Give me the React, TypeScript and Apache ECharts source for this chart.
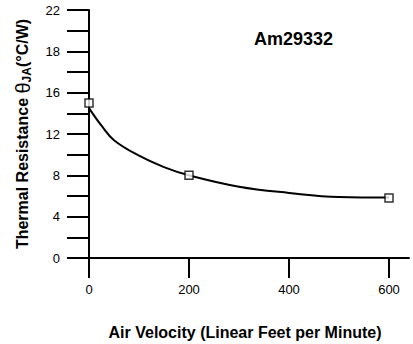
import React, { useEffect, useRef } from "react";
import * as echarts from "echarts";

const curveX = [0, 25, 50, 100, 150, 200, 300, 400, 500, 600];
const curveY = [14.5, 12.8, 11.4, 9.9, 8.8, 8.0, 6.9, 6.3, 5.9, 5.85];
const markerX = [0, 200, 600];
const markerY = [15, 8, 5.8];
const xTicks = [0, 200, 400, 600];
const yTickPositions = [0, 2, 4, 6, 8, 10, 12, 14, 16, 18, 20, 22, 24];
const yLabelPositions = [0, 4, 8, 12, 16, 20, 24];
const yLabelTexts = ["0", "4", "8", "12", "16", "18", "22"];
const titleText = "Am29332";
const xName = "Air Velocity (Linear Feet per Minute)";

export default function App() {
  const ref = useRef<HTMLDivElement>(null);
  useEffect(() => {
    if (!ref.current) return;
    const chart = echarts.init(ref.current, null, { renderer: "svg" });
    const font = "'Liberation Sans', Arial, Helvetica, sans-serif";
    chart.setOption({
      animation: false,
      backgroundColor: "#ffffff",
      textStyle: { fontFamily: font, color: "#000" },
      title: {
        text: titleText,
        left: 249,
        top: 25,
        textStyle: { fontFamily: font, fontSize: 18, fontWeight: "bold", color: "#000" },
      },
      grid: { left: 89, right: 4, top: 10, bottom: 86, containLabel: false, outerBoundsMode: "none" },
      xAxis: {
        type: "value",
        min: 0,
        max: 640,
        name: xName,
        nameLocation: "middle",
        nameGap: 66,
        nameTextStyle: { fontFamily: font, fontSize: 16, fontWeight: "bold", color: "#000", padding: [0, 8, 0, 0] },
        splitLine: { show: false },
        axisLine: { show: true, onZero: false, lineStyle: { color: "#000", width: 2 } },
        axisTick: { show: true, inside: false, length: 20, lineStyle: { color: "#000", width: 2 }, customValues: xTicks },
        axisLabel: { margin: 25, fontSize: 13, color: "#000", fontFamily: font, customValues: xTicks },
      },
      yAxis: {
        type: "value",
        min: 0,
        max: 24,
        name: "Thermal Resistance {t|θ}{s|JA}{n|(°C/W)}",
        nameLocation: "middle",
        nameRotate: 90,
        nameGap: 56,
        nameTextStyle: {
          fontFamily: font,
          fontSize: 16,
          fontWeight: "bold",
          color: "#000",
          rich: {
            t: { fontFamily: font, fontSize: 20, fontWeight: "normal", color: "#000" },
            s: { fontFamily: font, fontSize: 12, fontWeight: "bold", color: "#000", padding: [9, 0, 0, 0] },
            n: { fontFamily: font, fontSize: 16, fontWeight: "bold", color: "#000" },
          },
        },
        splitLine: { show: false },
        axisLine: { show: true, lineStyle: { color: "#000", width: 2 } },
        axisTick: { show: true, inside: false, length: 22, lineStyle: { color: "#000", width: 2 }, customValues: yTickPositions },
        axisLabel: {
          margin: 29,
          fontSize: 13,
          color: "#000",
          fontFamily: font,
          customValues: yLabelPositions,
          formatter: (v: number) => {
            const i = yLabelPositions.indexOf(v);
            return i >= 0 ? yLabelTexts[i] : "";
          },
        },
      },
      series: [
        {
          type: "line",
          smooth: 0.4,
          symbol: "none",
          lineStyle: { color: "#000", width: 2 },
          data: curveX.map((x, i) => [x, curveY[i]]),
          z: 2,
        },
        {
          type: "scatter",
          symbol: "rect",
          symbolSize: 8,
          itemStyle: { color: "#fff", borderColor: "#000", borderWidth: 1.5 },
          data: markerX.map((x, i) => [x, markerY[i]]),
          z: 5,
        },
      ],
    });
    return () => chart.dispose();
  }, []);
  return (
    <div
      ref={ref}
      style={{ position: "absolute", left: 0, top: 0, width: 413, height: 344 }}
    />
  );
}
